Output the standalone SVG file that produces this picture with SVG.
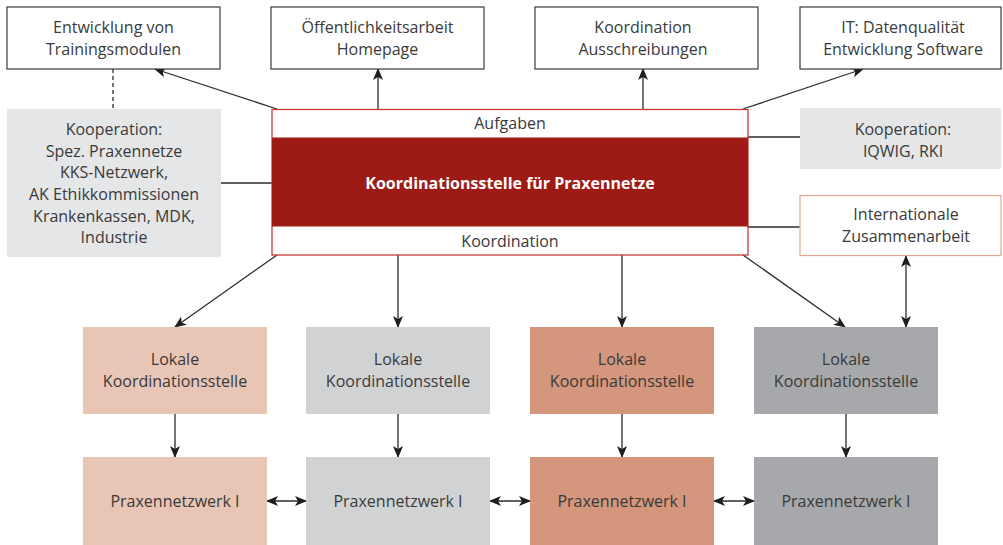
<svg xmlns="http://www.w3.org/2000/svg" width="1003" height="545" viewBox="0 0 1003 545">
<defs>
<style>
text{font-family:"Open Sans","Liberation Sans",sans-serif;font-size:16px;fill:#3a3a3a;text-anchor:middle}
.box{fill:#fff;stroke:#3a3a3a;stroke-width:1.2}
.gray{fill:#e5e6e8}
.ln{stroke:#2b2b2b;stroke-width:1.3;fill:none}
.arr{marker-end:url(#ah)}
.dbl{marker-start:url(#ah);marker-end:url(#ah)}
</style>
<marker id="ah" viewBox="0 0 12 10" refX="11" refY="5" markerWidth="12" markerHeight="10" markerUnits="userSpaceOnUse" orient="auto-start-reverse">
<path d="M0,0 L12,5 L0,10 L3,5 Z" fill="#1e1e1e"/>
</marker>
</defs>
<rect width="1003" height="545" fill="#fff"/>
<g id="connectors">
<line class="ln" x1="113" y1="69" x2="113" y2="109" stroke-dasharray="4,3" stroke="#777"/>
<line class="ln arr" x1="277" y1="109" x2="155" y2="69"/>
<line class="ln arr" x1="378" y1="109" x2="378" y2="69"/>
<line class="ln arr" x1="643" y1="109" x2="643" y2="69"/>
<line class="ln arr" x1="743" y1="109" x2="863" y2="69"/>
<line class="ln" x1="221" y1="183" x2="272" y2="183"/>
<line class="ln" x1="748" y1="137" x2="800" y2="137"/>
<line class="ln" x1="748" y1="227" x2="800" y2="227"/>
<line class="ln arr" x1="277" y1="255" x2="175" y2="327"/>
<line class="ln arr" x1="398" y1="255" x2="398" y2="327"/>
<line class="ln arr" x1="622" y1="255" x2="622" y2="327"/>
<line class="ln arr" x1="743" y1="255" x2="845" y2="327"/>
<line class="ln dbl" x1="906" y1="256" x2="906" y2="327"/>
<line class="ln arr" x1="175" y1="414" x2="175" y2="457"/>
<line class="ln arr" x1="398" y1="414" x2="398" y2="457"/>
<line class="ln arr" x1="622" y1="414" x2="622" y2="457"/>
<line class="ln arr" x1="846" y1="414" x2="846" y2="457"/>
<line class="ln dbl" x1="267" y1="501" x2="306" y2="501"/>
<line class="ln dbl" x1="490" y1="501" x2="530" y2="501"/>
<line class="ln dbl" x1="714" y1="501" x2="754" y2="501"/>
</g>
<g id="top1"><rect class="box" x="7" y="7" width="213" height="62"/><text x="113.5" y="33">Entwicklung von</text><text x="113.5" y="55">Trainingsmodulen</text></g>
<g id="top2"><rect class="box" x="271" y="7" width="213" height="62"/><text x="377.5" y="33">Öffentlichkeitsarbeit</text><text x="377.5" y="55">Homepage</text></g>
<g id="top3"><rect class="box" x="535" y="7" width="223" height="62"/><text x="643" y="33">Koordination</text><text x="643" y="55">Ausschreibungen</text></g>
<g id="top4"><rect class="box" x="800" y="7" width="201" height="62"/><text x="903" y="33">IT: Datenqualität</text><text x="903" y="55">Entwicklung Software</text></g>
<g id="koop-left"><rect class="gray" x="7" y="109" width="214" height="148"/>
<text x="114" y="135">Kooperation:</text><text x="114" y="157">Spez. Praxennetze</text><text x="114" y="178">KKS-Netzwerk,</text><text x="114" y="200">AK Ethikkommissionen</text><text x="114" y="222">Krankenkassen, MDK,</text><text x="114" y="243">Industrie</text></g>
<g id="central">
<rect x="272" y="109.5" width="476" height="145.5" fill="#fff" stroke="#c83a36" stroke-width="1.3"/>
<rect x="272" y="137.5" width="476" height="89" fill="#9e1b15"/>
<text x="510" y="129">Aufgaben</text>
<text x="510" y="189" style="fill:#fff;font-weight:bold">Koordinationsstelle für Praxennetze</text>
<text x="510" y="247">Koordination</text>
</g>
<g id="koop-right"><rect class="gray" x="800" y="108" width="201" height="61"/><text x="903" y="135">Kooperation:</text><text x="903" y="157">IQWIG, RKI</text></g>
<g id="international"><rect x="800" y="195.5" width="201" height="60" fill="#fff" stroke="#e3a890" stroke-width="1.2"/><text x="906" y="220">Internationale</text><text x="906" y="242">Zusammenarbeit</text></g>
<g id="lok1"><rect x="83" y="327" width="184" height="87" fill="#e8c5b5"/><text x="175" y="365">Lokale</text><text x="175" y="387">Koordinationsstelle</text></g>
<g id="lok2"><rect x="306" y="327" width="184" height="87" fill="#d1d2d4"/><text x="398" y="365">Lokale</text><text x="398" y="387">Koordinationsstelle</text></g>
<g id="lok3"><rect x="530" y="327" width="184" height="87" fill="#d4967d"/><text x="622" y="365">Lokale</text><text x="622" y="387">Koordinationsstelle</text></g>
<g id="lok4"><rect x="754" y="327" width="184" height="87" fill="#a7a8ab"/><text x="846" y="365">Lokale</text><text x="846" y="387">Koordinationsstelle</text></g>
<g id="pn1"><rect x="83" y="457" width="184" height="88" fill="#e8c5b5"/><text x="175" y="507">Praxennetzwerk I</text></g>
<g id="pn2"><rect x="306" y="457" width="184" height="88" fill="#d1d2d4"/><text x="398" y="507">Praxennetzwerk I</text></g>
<g id="pn3"><rect x="530" y="457" width="184" height="88" fill="#d4967d"/><text x="622" y="507">Praxennetzwerk I</text></g>
<g id="pn4"><rect x="754" y="457" width="184" height="88" fill="#a7a8ab"/><text x="846" y="507">Praxennetzwerk I</text></g>
</svg>
